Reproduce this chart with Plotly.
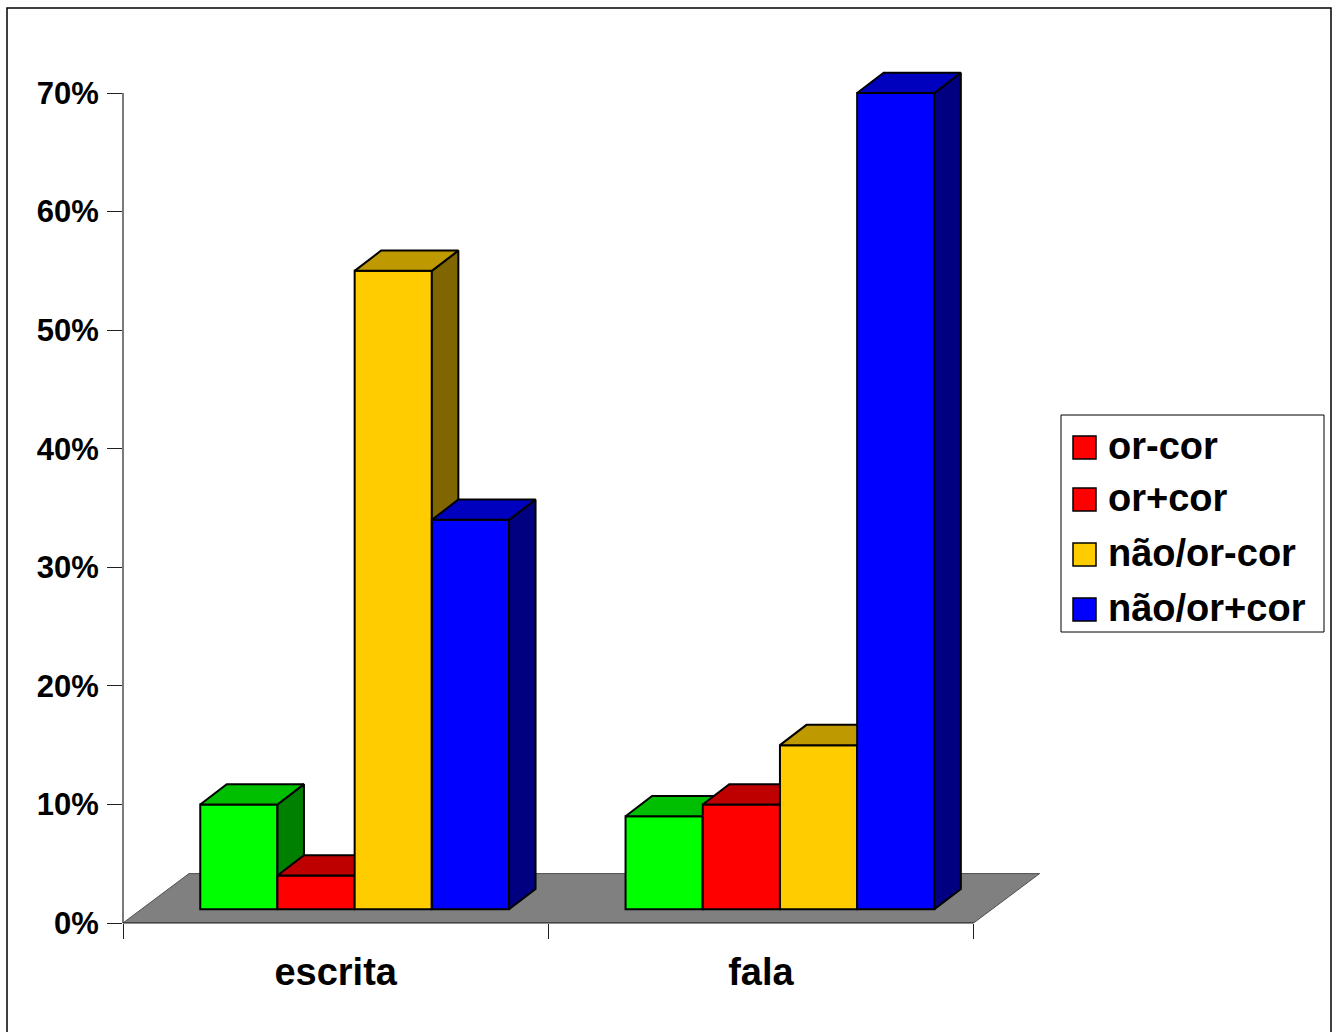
import plotly.graph_objects as go

# ---- data -------------------------------------------------------------
categories = ["escrita", "fala"]
series_names = ["or-cor", "or+cor", "não/or-cor", "não/or+cor"]
or_cor = [10, 9]
or_mais_cor = [4, 10]
nao_or_menos_cor = [55, 15]
nao_or_mais_cor = [34, 70]
y_tick_values = [0, 10, 20, 30, 40, 50, 60, 70]
y_tick_labels = ["0%", "10%", "20%", "30%", "40%", "50%", "60%", "70%"]

series_values = [or_cor, or_mais_cor, nao_or_menos_cor, nao_or_mais_cor]

# ---- colours ----------------------------------------------------------
front_colors = ["#00FF00", "#FF0000", "#FFCC00", "#0000FF"]
top_colors = ["#00BF00", "#BF0000", "#BF9900", "#0000BF"]
side_colors = ["#008000", "#800000", "#806600", "#000080"]
legend_colors = ["#FF0000", "#FF0000", "#FFCC00", "#0000FF"]
FLOOR_COLOR = "#808080"
AXIS_COLOR = "#202020"
FONT = "Liberation Sans, Arial, sans-serif"

# ---- geometry (pixels) ------------------------------------------------
W, H = 1338, 1032
M_L, M_R, M_T, M_B = 123, 293, 50, 109
PX_PER_CAT = 425.3
PX_PER_PCT = 11.857
plot_w = W - M_L - M_R
plot_h = H - M_T - M_B
X_MAX = plot_w / PX_PER_CAT
Y_MAX = plot_h / PX_PER_PCT

# oblique projection used for the 3-D look
BAR_W = 77.2 / PX_PER_CAT
GROUP_W = len(series_names) * BAR_W
FRONT_DX = 19.0 / PX_PER_CAT
LIFT = 13.7 / PX_PER_PCT
DEPTH_DX = 26.5 / PX_PER_CAT
DEPTH_DY = 20.3 / PX_PER_PCT
FLOOR_DX = 66.0 / PX_PER_CAT
FLOOR_DY = 49.4 / PX_PER_PCT

n_cat = len(categories)
cat_pos = [j + 0.5 for j in range(n_cat)]


def paper_x(px):
    return (px - M_L) / plot_w


def paper_y(py):
    return (H - M_B - py) / plot_h


fig = go.Figure()

for i, (name, vals) in enumerate(zip(series_names, series_values)):
    xa = "x" if i == 0 else f"x{i + 1}"
    ya = "y" if i == 0 else f"y{i + 1}"
    offset = -GROUP_W / 2 + FRONT_DX + i * BAR_W

    # front faces
    fig.add_trace(go.Bar(
        x=cat_pos, y=[v - LIFT for v in vals], base=LIFT,
        offset=offset, width=BAR_W,
        marker=dict(color=front_colors[i], line=dict(color="black", width=2)),
        customdata=vals, name=name, showlegend=False,
        hovertemplate="%{customdata}%<extra>" + name + "</extra>",
        xaxis=xa, yaxis=ya,
    ))

    # side and top faces
    sx, sy, tx, ty = [], [], [], []
    for c, v in zip(cat_pos, vals):
        xl = c + offset
        xr = xl + BAR_W
        sx += [xr, xr, xr + DEPTH_DX, xr + DEPTH_DX, xr, None]
        sy += [LIFT, v, v + DEPTH_DY, LIFT + DEPTH_DY, LIFT, None]
        tx += [xl, xr, xr + DEPTH_DX, xl + DEPTH_DX, xl, None]
        ty += [v, v, v + DEPTH_DY, v + DEPTH_DY, v, None]
    for fx, fy, col in ((sx, sy, side_colors[i]), (tx, ty, top_colors[i])):
        fig.add_trace(go.Scatter(
            x=fx, y=fy, mode="lines", fill="toself", fillcolor=col,
            line=dict(color="black", width=2), hoverinfo="skip",
            showlegend=False, xaxis=xa, yaxis=ya,
        ))

layout_axes = {}
for i in range(1, len(series_names)):
    layout_axes[f"xaxis{i + 1}"] = dict(overlaying="x", range=[0, X_MAX], visible=False)
    layout_axes[f"yaxis{i + 1}"] = dict(overlaying="y", range=[0, Y_MAX], visible=False)

shapes = [
    # floor
    dict(type="path", xref="x", yref="y", layer="below",
         path=f"M 0,0 L {n_cat},0 L {n_cat + FLOOR_DX},{FLOOR_DY} L {FLOOR_DX},{FLOOR_DY} Z",
         fillcolor=FLOOR_COLOR, line=dict(color="#505050", width=1)),
    # axis lines (paper coordinates so they are not clipped at the plot edge)
    dict(type="line", xref="paper", yref="paper", x0=0, x1=0,
         y0=0, y1=y_tick_values[-1] / Y_MAX,
         line=dict(color=AXIS_COLOR, width=1.2)),
    dict(type="line", xref="paper", yref="paper", x0=0, x1=n_cat / X_MAX, y0=0, y1=0,
         line=dict(color=AXIS_COLOR, width=1.2)),
    # chart border
    dict(type="rect", xref="paper", yref="paper",
         x0=paper_x(7), x1=paper_x(1331), y0=paper_y(1040), y1=paper_y(8),
         line=dict(color="black", width=1.5), fillcolor="rgba(0,0,0,0)"),
    # legend box
    dict(type="rect", xref="paper", yref="paper",
         x0=paper_x(1061), x1=paper_x(1324), y0=paper_y(632), y1=paper_y(415),
         line=dict(color="black", width=1), fillcolor="white"),
]

annotations = []
row_tops = [436, 488, 543, 598]
for name, col, top in zip(series_names, legend_colors, row_tops):
    shapes.append(dict(type="rect", xref="paper", yref="paper",
                       x0=paper_x(1073), x1=paper_x(1096),
                       y0=paper_y(top + 23), y1=paper_y(top),
                       fillcolor=col, line=dict(color="black", width=1.5)))
    annotations.append(dict(xref="paper", yref="paper", x=paper_x(1106),
                            y=paper_y(top + 10), xanchor="left", yanchor="middle",
                            text=name, showarrow=False,
                            font=dict(family=FONT, size=38, color="black", weight="bold")))

fig.update_layout(
    width=W, height=H,
    margin=dict(l=M_L, r=M_R, t=M_T, b=M_B),
    paper_bgcolor="white", plot_bgcolor="white",
    barmode="overlay",
    showlegend=False,
    xaxis=dict(
        range=[0, X_MAX], tickmode="array", tickvals=cat_pos, ticktext=categories,
        ticks="outside", ticklen=15, tickcolor="rgba(0,0,0,0)",
        tickfont=dict(family=FONT, size=38, color="black", weight="bold"),
        showgrid=False, zeroline=False, showline=False,
        minor=dict(tickmode="array", tickvals=list(range(n_cat + 1)), ticks="outside",
                   ticklen=15, tickwidth=1.2, tickcolor=AXIS_COLOR, showgrid=False),
    ),
    yaxis=dict(
        range=[0, Y_MAX], tickmode="array", tickvals=y_tick_values, ticktext=y_tick_labels,
        ticks="outside", ticklen=15, tickwidth=1.2, tickcolor=AXIS_COLOR,
        ticklabelstandoff=2,
        tickfont=dict(family=FONT, size=31, color="black", weight="bold"),
        showgrid=False, zeroline=False, showline=False,
    ),
    shapes=shapes,
    annotations=annotations,
    **layout_axes,
)

fig.write_html("out.html")
